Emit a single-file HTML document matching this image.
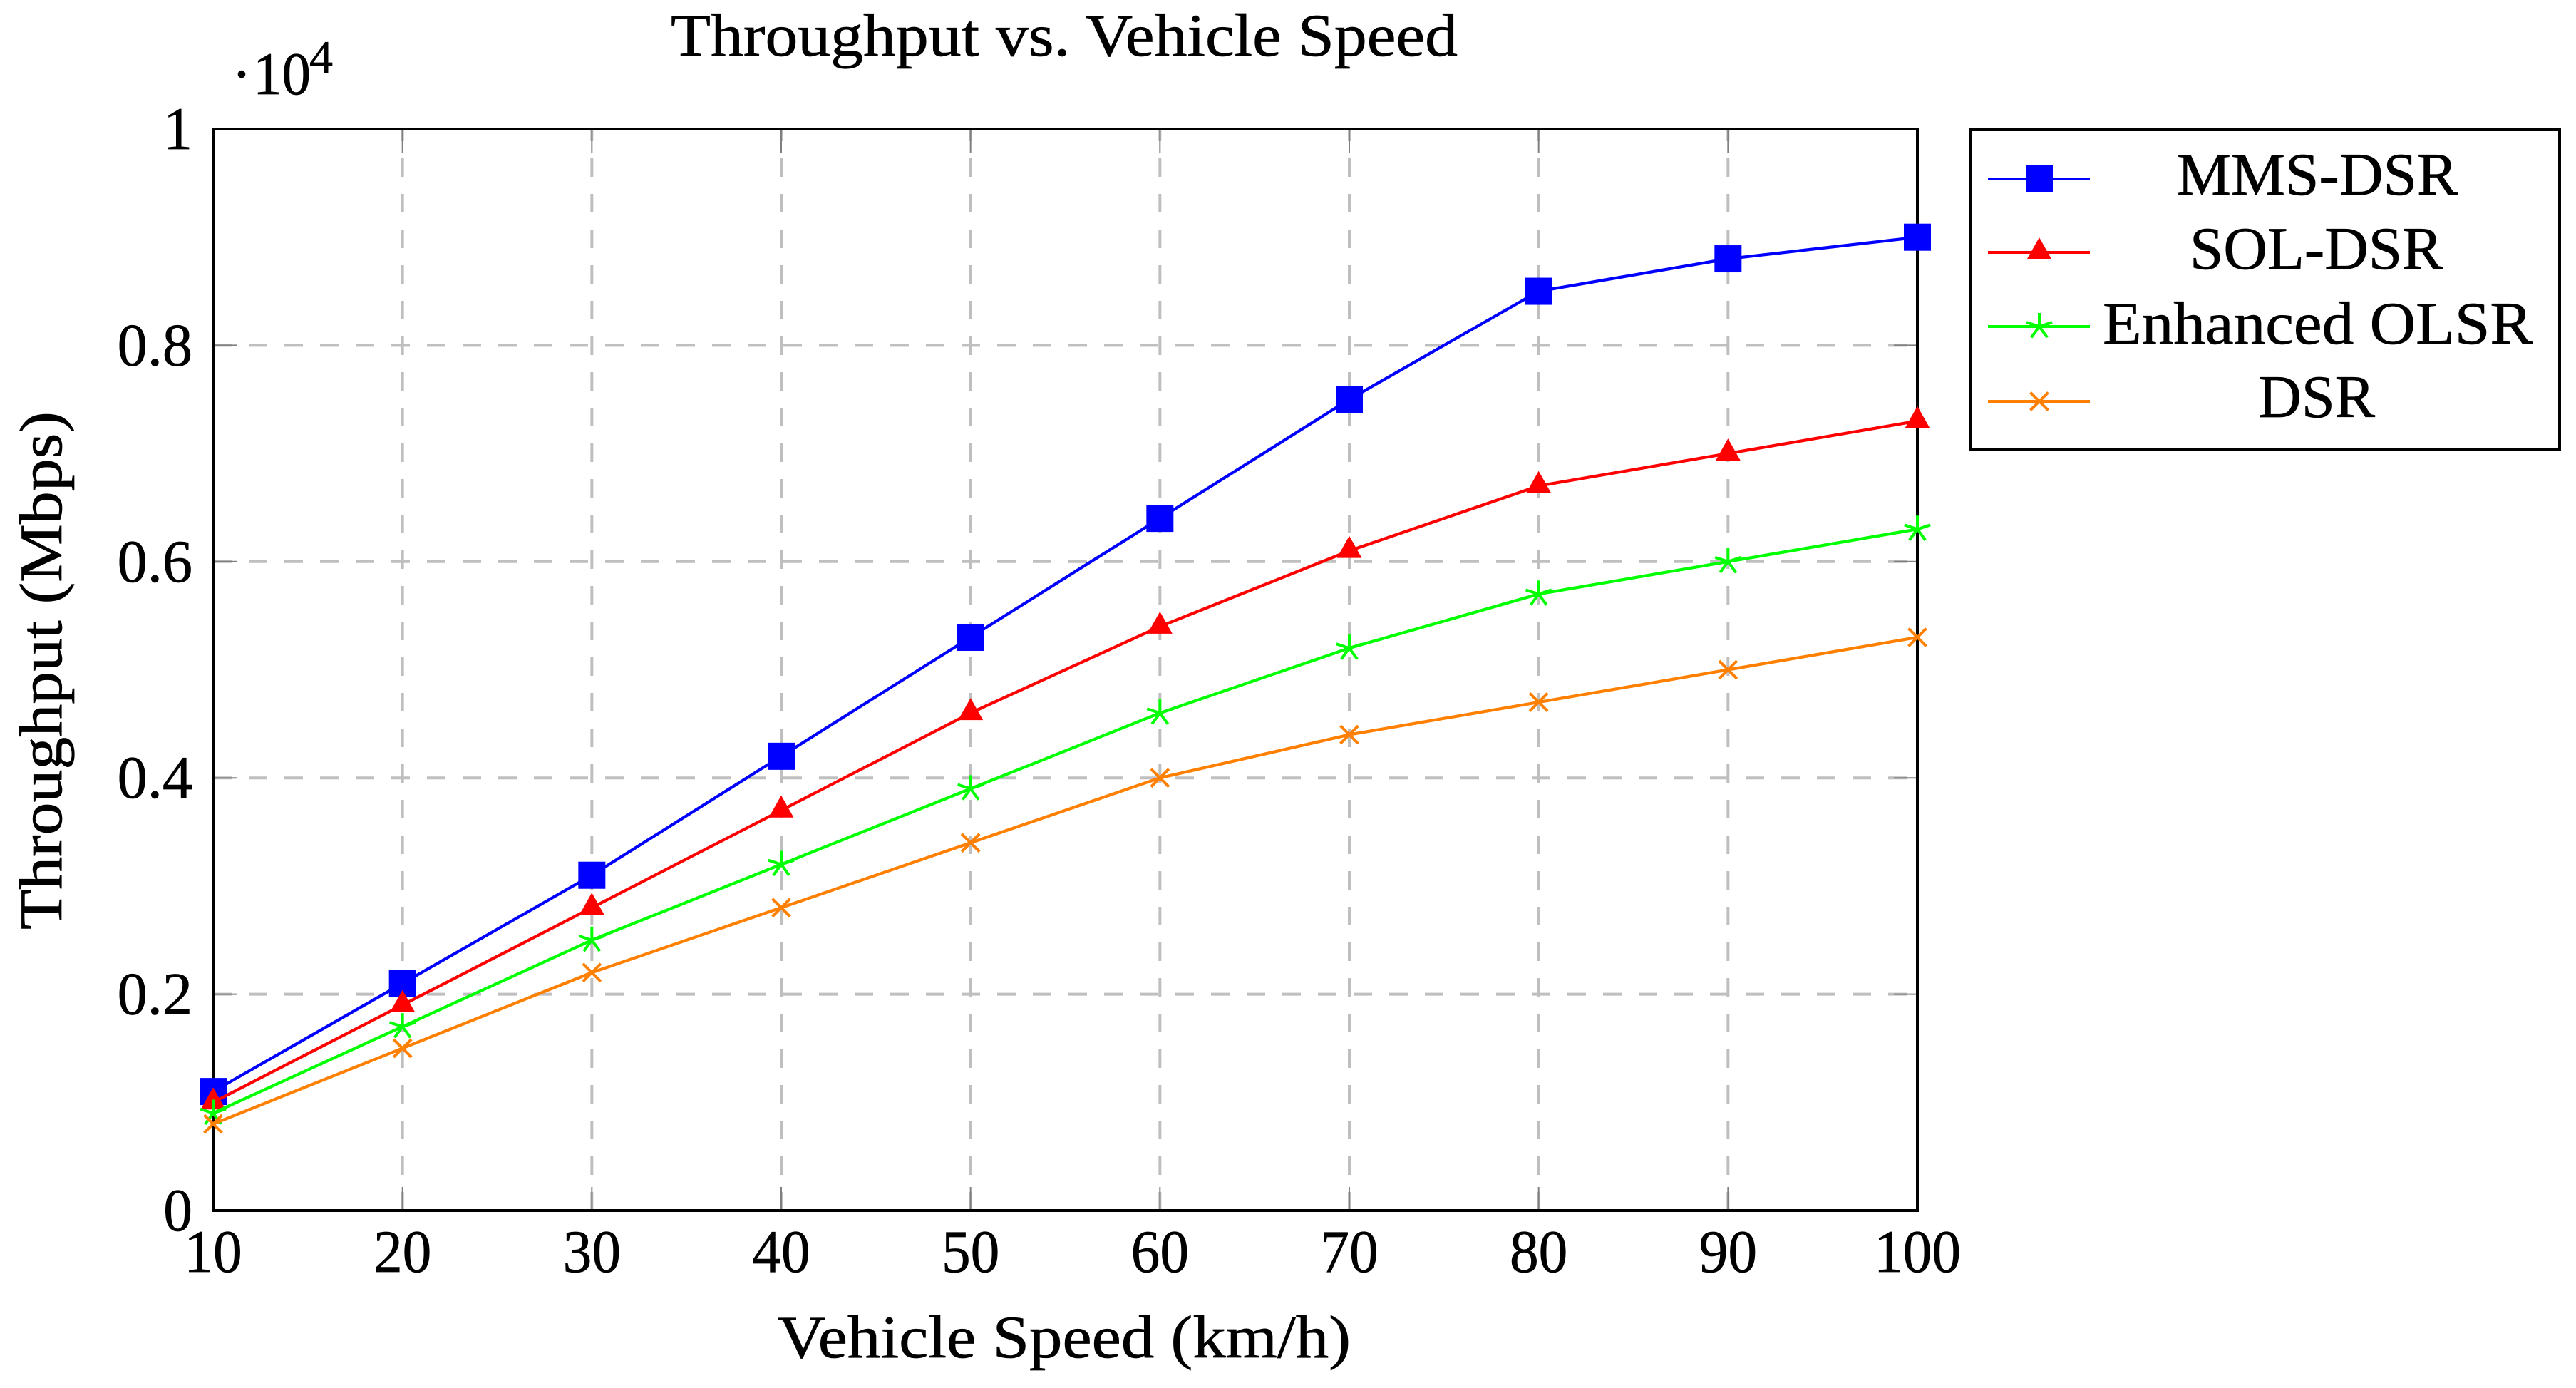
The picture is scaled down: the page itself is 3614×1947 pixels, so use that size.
<!DOCTYPE html>
<html lang="en">
<head>
<meta charset="utf-8">
<title>Throughput vs. Vehicle Speed</title>
<style>
html,body{margin:0;padding:0;background:#fff;}
svg{display:block;}
text{font-family:"Liberation Serif",serif;fill:#000;stroke:#000;stroke-width:0.7px;}
</style>
</head>
<body>
<svg id="chart" xmlns="http://www.w3.org/2000/svg" width="3614" height="1947" viewBox="0 0 3614 1947">
  <rect x="0" y="0" width="3614" height="1947" fill="#ffffff"/>
  <g id="grid"></g>
  <g id="ticks"></g>
  <rect x="299" y="181" width="2391" height="1517" fill="none" stroke="#000" stroke-width="4"/>
  <g id="series"></g>
  <g id="labels"></g>

  <text x="941" y="78" font-size="85" textLength="1104" lengthAdjust="spacingAndGlyphs">Throughput vs. Vehicle Speed</text>
  <text x="1091" y="1904" font-size="85" textLength="804" lengthAdjust="spacingAndGlyphs">Vehicle Speed (km/h)</text>
  <text transform="translate(86 1304) rotate(-90)" x="0" y="0" font-size="85" textLength="727" lengthAdjust="spacingAndGlyphs">Throughput (Mbps)</text>

  <g>
    <text x="339" y="132" font-size="84" text-anchor="middle">·</text>
    <text x="355" y="132" font-size="85" textLength="81" lengthAdjust="spacingAndGlyphs">10</text>
    <text x="434" y="102" font-size="65" textLength="33" lengthAdjust="spacingAndGlyphs">4</text>
  </g>

  <g id="legend">
    <rect x="2764" y="182" width="827" height="449" fill="#fff" stroke="#000" stroke-width="4"/>
  </g>
</svg>
<script>
// Chart data
const speeds = [10, 20, 30, 40, 50, 60, 70, 80, 90, 100];
const mmsDsr = [1100, 2100, 3100, 4200, 5300, 6400, 7500, 8500, 8800, 9000];
const solDsr = [1000, 1900, 2800, 3700, 4600, 5400, 6100, 6700, 7000, 7300];
const enhancedOlsr = [900, 1700, 2500, 3200, 3900, 4600, 5200, 5700, 6000, 6300];
const dsr = [800, 1500, 2200, 2800, 3400, 4000, 4400, 4700, 5000, 5300];
const xTicks = [10, 20, 30, 40, 50, 60, 70, 80, 90, 100];
const yTicks = [0, 2000, 4000, 6000, 8000, 10000];
const yTickLabels = ['0', '0.2', '0.4', '0.6', '0.8', '1'];
const seriesNames = ['MMS-DSR', 'SOL-DSR', 'Enhanced OLSR', 'DSR'];

const NS = 'http://www.w3.org/2000/svg';
const plot = {left: 299, right: 2690, top: 181, bottom: 1698};
const xMin = 10, xMax = 100, yMin = 0, yMax = 10000;
function xScale(v) { return plot.left + (v - xMin) / (xMax - xMin) * (plot.right - plot.left); }
function yScale(v) { return plot.bottom - (v - yMin) / (yMax - yMin) * (plot.bottom - plot.top); }

function make(tag, attrs, parent) {
  const el = document.createElementNS(NS, tag);
  for (const k in attrs) el.setAttribute(k, attrs[k]);
  parent.appendChild(el);
  return el;
}

const gridG = document.getElementById('grid');
const tickG = document.getElementById('ticks');
const labelG = document.getElementById('labels');
const seriesG = document.getElementById('series');
const legendG = document.getElementById('legend');
const gridStyle = {stroke: '#bfbfbf', 'stroke-width': 4, 'stroke-dasharray': '26 24', fill: 'none'};
const tickStyle = {stroke: '#808080', 'stroke-width': 2, fill: 'none'};
const tickLen = 33;

function labelWidth(s) {
  let w = 0;
  for (const c of s) w += (c === '.') ? 24 : 40.7;
  return w;
}

xTicks.forEach(function (t) {
  const x = xScale(t);
  if (t !== xMin && t !== xMax) {
    const g = make('line', Object.assign({x1: x, y1: plot.bottom, x2: x, y2: plot.top}, gridStyle), gridG);
    
    
    const a = make('line', Object.assign({x1: x, y1: plot.bottom, x2: x, y2: plot.bottom - tickLen}, tickStyle), tickG);
    
    
    const b = make('line', Object.assign({x1: x, y1: plot.top, x2: x, y2: plot.top + tickLen}, tickStyle), tickG);
    
    
  }
  const s = String(t);
  const w = labelWidth(s);
  const lab = make('text', {x: x - w / 2, y: 1784, 'font-size': 85, textLength: w, lengthAdjust: 'spacingAndGlyphs'}, labelG);
  lab.textContent = s;
  
  
});

yTicks.forEach(function (t, i) {
  const y = yScale(t);
  if (t !== yMin && t !== yMax) {
    const g = make('line', Object.assign({x1: plot.left, y1: y, x2: plot.right, y2: y}, gridStyle), gridG);
    
    
    const a = make('line', Object.assign({x1: plot.left, y1: y, x2: plot.left + tickLen, y2: y}, tickStyle), tickG);
    
    
    const b = make('line', Object.assign({x1: plot.right, y1: y, x2: plot.right - tickLen, y2: y}, tickStyle), tickG);
    
    
  }
  const s = yTickLabels[i];
  const w = labelWidth(s);
  const lab = make('text', {x: 270 - w, y: y + 28, 'font-size': 85, textLength: w, lengthAdjust: 'spacingAndGlyphs'}, labelG);
  lab.textContent = s;
  
  
});

function markerSquare(parent, x, y, color) {
  return make('rect', {x: x - 19, y: y - 19, width: 38, height: 38, fill: color}, parent);
}
function markerTriangle(parent, x, y, color) {
  return make('polygon', {points: (x) + ',' + (y - 21) + ' ' + (x + 17.5) + ',' + (y + 10) + ' ' + (x - 17.5) + ',' + (y + 10), fill: color}, parent);
}
function markerStar(parent, x, y, color) {
  let d = '';
  for (let k = 0; k < 5; k++) {
    const ang = (90 + 72 * k) * Math.PI / 180;
    d += 'M' + x + ' ' + y + 'L' + (x + 19 * Math.cos(ang)) + ' ' + (y - 19 * Math.sin(ang));
  }
  return make('path', {d: d, stroke: color, 'stroke-width': 4, fill: 'none'}, parent);
}
function markerCross(parent, x, y, color) {
  const r = 12.5;
  const d = 'M' + (x - r) + ' ' + (y - r) + 'L' + (x + r) + ' ' + (y + r) + 'M' + (x - r) + ' ' + (y + r) + 'L' + (x + r) + ' ' + (y - r);
  return make('path', {d: d, stroke: color, 'stroke-width': 4, fill: 'none'}, parent);
}

const seriesValues = [mmsDsr, solDsr, enhancedOlsr, dsr];
const seriesColors = ['#0000ff', '#ff0000', '#00ff00', '#ff8000'];
const seriesMarkers = [markerSquare, markerTriangle, markerStar, markerCross];
const seriesKeys = ['mms-dsr', 'sol-dsr', 'enhanced-olsr', 'dsr'];

seriesValues.forEach(function (vals, si) {
  const g = make('g', {}, seriesG);
  
  
  const pts = vals.map(function (v, i) { return xScale(speeds[i]) + ',' + yScale(v); }).join(' ');
  const line = make('polyline', {points: pts, fill: 'none', stroke: seriesColors[si], 'stroke-width': 4.2, 'stroke-linejoin': 'round'}, g);
  
  
  vals.forEach(function (v, i) {
    const m = seriesMarkers[si](g, xScale(speeds[i]), yScale(v), seriesColors[si]);
    
    
  });
});

// Legend
const legendLineY = [251, 354, 458, 563];
const legendTextY = [273, 377, 482, 585];
const legendTextX = [3054, 3072, 2950, 3168];
const legendTextW = [394, 355, 603, 164];
seriesNames.forEach(function (name, i) {
  const g = make('g', {}, legendG);
  
  
  const l = make('line', {x1: 2789, y1: legendLineY[i], x2: 2932, y2: legendLineY[i], stroke: seriesColors[i], 'stroke-width': 4}, g);
  
  
  const m = seriesMarkers[i](g, 2861, legendLineY[i], seriesColors[i]);
  
  
  const t = make('text', {x: legendTextX[i], y: legendTextY[i], 'font-size': 85, textLength: legendTextW[i], lengthAdjust: 'spacingAndGlyphs'}, g);
  t.textContent = name;
  
  
});
</script>
</body>
</html>
